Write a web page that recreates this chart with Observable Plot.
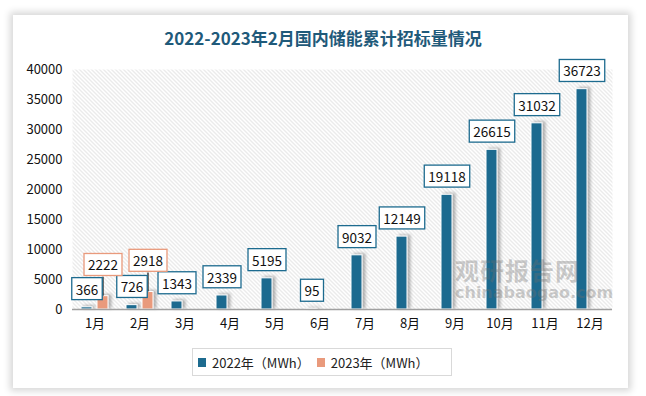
<!DOCTYPE html>
<html><head><meta charset="utf-8">
<script src="https://cdn.jsdelivr.net/npm/d3@7"></script>
<script src="https://cdn.jsdelivr.net/npm/@observablehq/plot@0.6"></script>
<style>
body{margin:0;background:#fff;width:646px;height:396px;position:relative;overflow:hidden;font-family:"Microsoft YaHei","Noto Sans CJK SC",sans-serif;}
#card{position:absolute;left:13px;top:15px;width:615px;height:373px;background:#fff;box-shadow:0 0 7px 3px rgba(0,0,0,0.16);}
#title{position:absolute;left:0;top:26px;width:646px;text-align:center;font:bold 17px "Noto Sans CJK SC",sans-serif;color:#1f5a7a;line-height:24px;}
#chart{position:absolute;left:0;top:50px;}
#legend{position:absolute;left:192px;top:348px;width:260px;height:28px;border:1px solid #d9d9d9;box-sizing:border-box;display:flex;align-items:center;font:13px "Noto Sans CJK SC",sans-serif;color:#222;}
#legend .sw{display:inline-block;width:8px;height:9px;margin:0 6px 0 5px;}
#legend .item{display:flex;align-items:center;margin-right:2px;}
#wm{position:absolute;left:455px;top:256px;color:rgba(110,110,110,0.34);pointer-events:none;}
#wm .a{font:bold 24px "Noto Sans CJK SC",sans-serif;letter-spacing:1px;line-height:28px;}
#wm .b{font:bold 16px "DejaVu Sans",sans-serif;line-height:18px;}
</style></head>
<body>
<div id="card"></div>
<div id="title">2022-2023年2月国内储能累计招标量情况</div>
<div id="chart"></div>
<div id="wm"><div class="a">观研报告网</div><div class="b">chinabaogao.com</div></div>
<div id="legend"></div>
<script>
const months = ["1月","2月","3月","4月","5月","6月","7月","8月","9月","10月","11月","12月"];
const values2022 = [366,726,1343,2339,5195,95,9032,12149,19118,26615,31032,36723];
const values2023 = [2222,2918];
const yTicks = [0,5000,10000,15000,20000,25000,30000,35000,40000];
const seriesNames = ["2022年（MWh）","2023年（MWh）"];
const colors = ["#1d6b8f","#e99a7c"];

const s2022 = months.map((m,i)=>({month:m, value:values2022[i]}));
const s2023 = values2023.map((v,i)=>({month:months[i], value:v}));

const chart = Plot.plot({
  width:646, height:290,
  marginTop:19, marginBottom:31, marginLeft:72, marginRight:34,
  style:{fontSize:"13px", fontFamily:"'Noto Sans CJK SC',sans-serif", color:"#111", background:"transparent"},
  x:{domain:months, padding:0, label:null, tickSize:0, tickPadding:9},
  y:{domain:[0,40000], ticks:yTicks, tickFormat:d=>String(d), label:null, tickSize:0, tickPadding:10},
  marks:[
    Plot.frame({fill:"url(#hatch)", stroke:"none"}),
    Plot.barY(s2022,{x:"month", y:"value", fill:colors[0], stroke:"white", strokeWidth:1, insetLeft:9, insetRight:25}),
    Plot.barY(s2023,{x:"month", y:"value", fill:colors[1], stroke:"white", strokeWidth:1, insetLeft:25, insetRight:9}),
    Plot.ruleY([0],{stroke:"#a0a0a0", strokeWidth:1.3}),
    Plot.ruleX(s2023,{x:"month", y1:"value", y2:"value", dx:8, insetTop:-19, stroke:"#111", strokeWidth:1.2}),
    Plot.text(s2022,{x:"month", y:"value", text:d=>String(d.value), dx:-8, dy:-17, fill:"#111", fontSize:13.5}),
    Plot.text(s2023,{x:"month", y:"value", text:d=>String(d.value), dx:8, dy:-30, fill:"#111", fontSize:13.5})
  ]
});
document.getElementById("chart").append(chart);

const ns = "http://www.w3.org/2000/svg";
const svg = chart.tagName.toLowerCase()==="svg" ? chart : chart.querySelector("svg");
const defs = document.createElementNS(ns,"defs");
defs.innerHTML = `
<pattern id="hatch" patternUnits="userSpaceOnUse" width="4" height="4">
  <rect width="4" height="4" fill="#fff"/>
  <path d="M-1,-1 L5,5 M-1,3 L1,5 M3,-1 L5,1" stroke="#d6d6d6" stroke-width="1"/>
</pattern>
<filter id="shadow" x="-50%" y="-20%" width="200%" height="140%">
  <feDropShadow dx="3" dy="-1" stdDeviation="1.6" flood-color="#777" flood-opacity="0.55"/>
</filter>`;
svg.insertBefore(defs, svg.firstChild);
svg.querySelectorAll('g[aria-label="bar"]').forEach(g=>g.setAttribute("filter","url(#shadow)"));

svg.querySelectorAll('g[aria-label="text"]').forEach((g,gi)=>{
  const col = colors[gi];
  g.querySelectorAll("text").forEach(t=>{
    const b = t.getBBox();
    const tr = t.getAttribute("transform");
    const cy = b.y + b.height/2;
    const r = document.createElementNS(ns,"rect");
    r.setAttribute("x", b.x-4); r.setAttribute("y", cy-11);
    r.setAttribute("width", b.width+8); r.setAttribute("height", 22);
    r.setAttribute("fill","#fff"); r.setAttribute("stroke", col); r.setAttribute("stroke-width", 1.3);
    if (tr) r.setAttribute("transform", tr);
    g.insertBefore(r, t);
  });
});

const legend = document.getElementById("legend");
seriesNames.forEach((n,i)=>{
  const it = document.createElement("span"); it.className="item";
  const sw = document.createElement("span"); sw.className="sw"; sw.style.background=colors[i];
  it.append(sw, document.createTextNode(n));
  legend.append(it);
});
</script>
</body></html>
